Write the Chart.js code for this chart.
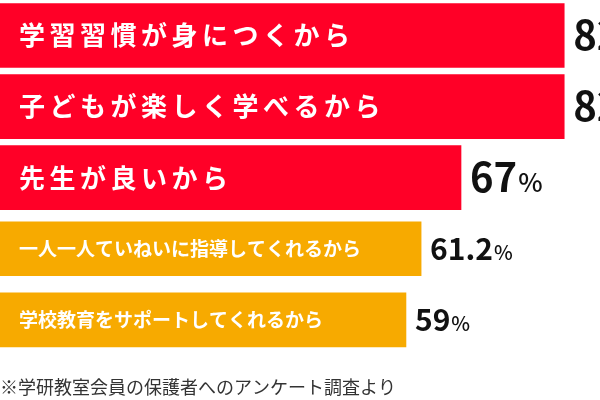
<!DOCTYPE html>
<html lang="ja">
<head>
<meta charset="utf-8">
<script src="https://cdn.jsdelivr.net/npm/chart.js@4"></script>
<style>
  html, body { margin: 0; padding: 0; background: #fff; }
  #wrap { width: 600px; height: 400px; }
</style>
</head>
<body>
<div id="wrap"><canvas id="bar"></canvas></div>
<script>
// データ
var reasons = ['学習習慣が身につくから', '子どもが楽しく学べるから', '先生が良いから', '一人一人ていねいに指導してくれるから', '学校教育をサポートしてくれるから'];
var topValues = [82, 82, 67, null, null];      // 赤いバー
var otherValues = [null, null, null, 61.2, 59]; // オレンジのバー
var note = '※学研教室会員の保護者へのアンケート調査より';

var FONT = '"Noto Sans CJK JP", "Noto Sans", sans-serif';

// バーの中のラベルと右側の数値を描くプラグイン
var barText = {
    id: 'barText',
    afterDatasetsDraw: function(chart) {
        var ctx = chart.ctx;
        chart.data.datasets.forEach(function(ds, di) {
            var meta = chart.getDatasetMeta(di);
            var st = ds.textStyle;
            meta.data.forEach(function(bar, i) {
                var v = ds.data[i];
                if (v === null || v === undefined) return;
                ctx.save();
                // ラベル
                ctx.fillStyle = '#fff';
                ctx.font = 'bold ' + st.label + 'px ' + FONT;
                ctx.letterSpacing = st.spacing + 'px';
                ctx.textBaseline = 'middle';
                ctx.textAlign = 'left';
                ctx.fillText(chart.data.labels[i], 19, bar.y);
                // 数値 + %
                ctx.letterSpacing = '0px';
                ctx.textBaseline = 'alphabetic';
                ctx.fillStyle = '#111';
                var base = bar.y + st.num * 0.733 / 2;
                var x = bar.x + 9;
                ctx.font = 'bold ' + st.num + 'px ' + FONT;
                var txt = String(v);
                ctx.fillText(txt, x, base);
                x += ctx.measureText(txt).width + 1;
                ctx.font = '500 ' + st.pct + 'px ' + FONT;
                ctx.fillText('%', x, base);
                ctx.restore();
            });
        });
    }
};

var ctx = document.getElementById('bar').getContext('2d');
new Chart(ctx, {
    type: 'bar',
    data: {
        labels: reasons,
        datasets: [{
                data: topValues,
                backgroundColor: '#ff0027',
                borderWidth: 0,
                barThickness: 64,
                grouped: false,
                textStyle: { label: 26, spacing: 4.5, num: 40, pct: 26 }
            },
            {
                data: otherValues,
                backgroundColor: '#f7aa00',
                borderWidth: 0,
                barThickness: 54,
                grouped: false,
                textStyle: { label: 19, spacing: 0, num: 30, pct: 20 }
            }
        ]
    },
    options: {
        indexAxis: 'y',
        responsive: true,
        maintainAspectRatio: false,
        animation: false,
        layout: { padding: 0 },
        scales: {
            x: { display: false, min: 0, max: 87.2 },
            y: { display: false }
        },
        plugins: {
            legend: { display: false },
            tooltip: { enabled: false },
            title: {
                display: true,
                text: note,
                position: 'bottom',
                align: 'start',
                color: '#333',
                font: { family: FONT, size: 18, weight: 'normal' },
                padding: { top: 21, bottom: 2 }
            }
        }
    },
    plugins: [barText]
});
</script>
</body>
</html>
